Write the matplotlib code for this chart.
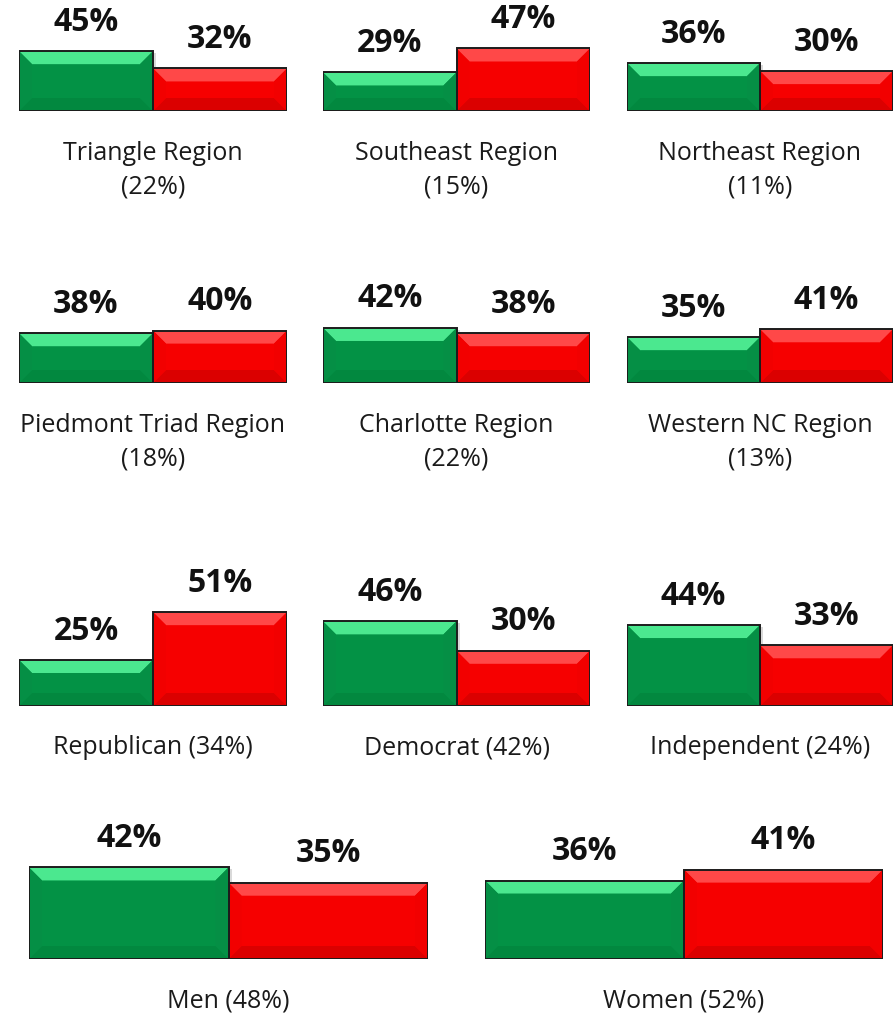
"""
Survey results by region, party and gender
Output: out.png
"""

import matplotlib
matplotlib.use("Agg")
import matplotlib.pyplot as plt
from matplotlib.patches import Polygon, Rectangle

# Chart data, one list per row of panels
row1_labels = ["Triangle Region\n(22%)", "Southeast Region\n(15%)", "Northeast Region\n(11%)"]
row1_green = [45, 29, 36]
row1_red = [32, 47, 30]

row2_labels = ["Piedmont Triad Region\n(18%)", "Charlotte Region\n(22%)", "Western NC Region\n(13%)"]
row2_green = [38, 42, 35]
row2_red = [40, 38, 41]

row3_labels = ["Republican (34%)", "Democrat (42%)", "Independent (24%)"]
row3_green = [25, 46, 44]
row3_red = [51, 30, 33]

row4_labels = ["Men (48%)", "Women (52%)"]
row4_green = [42, 36]
row4_red = [35, 41]

# Figure size in pixels
W, H = 894, 1015
DPI = 100

# Colours: (light top, face, dark bottom, side)
GREEN = ("#4be88f", "#039245", "#02883f", "#058f45")
RED = ("#ff4848", "#f60000", "#db0000", "#f20000")
EDGE = "#1c1c1c"

plt.rcParams["font.family"] = ["Open Sans", "DejaVu Sans"]

fig = plt.figure(figsize=(W / DPI, H / DPI), dpi=DPI)

# Row layout in pixels: baseline y, pixels per percent point, panel x ranges
rows = [
    (row1_labels, row1_green, row1_red, 111, 1.33, [(19, 287), (323, 590), (627, 893)]),
    (row2_labels, row2_green, row2_red, 383, 1.31, [(19, 287), (323, 590), (627, 893)]),
    (row3_labels, row3_green, row3_red, 706, 1.84, [(19, 287), (323, 590), (627, 893)]),
    (row4_labels, row4_green, row4_red, 959, 2.18, [(29, 428), (485, 883)]),
]

YMAX = 60
BEVEL = 13  # pixels
PT = 72 / DPI  # points per pixel


def draw_bar(ax, x0, h, colors, px_x, px_y):
    """Draw one bevelled bar from x0 to x0+1 with height h."""
    light, face, dark, side = colors
    x1 = x0 + 1
    bx = BEVEL / px_x
    by = BEVEL / px_y
    # soft shadow to the right
    ax.add_patch(Rectangle((x0 + 3 / px_x, 0), 1, h - 2 / px_y,
                           facecolor="#000000", alpha=0.15, lw=0, zorder=1))
    ax.bar(x0 + 0.5, h, width=1, color=face, zorder=2)
    ax.add_patch(Polygon([(x0, h), (x1, h), (x1 - bx, h - by), (x0 + bx, h - by)],
                         facecolor=light, lw=0, zorder=3))
    ax.add_patch(Polygon([(x0, 0), (x1, 0), (x1 - bx, by), (x0 + bx, by)],
                         facecolor=dark, lw=0, zorder=3))
    ax.add_patch(Polygon([(x0, 0), (x0, h), (x0 + bx, h - by), (x0 + bx, by)],
                         facecolor=side, lw=0, zorder=3))
    ax.add_patch(Polygon([(x1, 0), (x1, h), (x1 - bx, h - by), (x1 - bx, by)],
                         facecolor=side, lw=0, zorder=3))
    ax.bar(x0 + 0.5, h, width=1, facecolor="none", edgecolor=EDGE, lw=1.4, zorder=4)
    ax.annotate(f"{h}%", (x0 + 0.5, h), xytext=(0, 29 * PT), textcoords="offset points",
                ha="center", va="center", fontsize=23, fontweight="bold", color="#111111",
                annotation_clip=False)


for labels, green, red, base, scale, panels in rows:
    for label, g, r, (x0, x1) in zip(labels, green, red, panels):
        ax_h = YMAX * scale
        ax = fig.add_axes([x0 / W, 1 - base / H, (x1 - x0) / W, ax_h / H])
        ax.set_xlim(0, 2)
        ax.set_ylim(0, YMAX)
        ax.axis("off")
        px_x = (x1 - x0) / 2
        draw_bar(ax, 0, g, GREEN, px_x, scale)
        draw_bar(ax, 1, r, RED, px_x, scale)
        # category label lines below the bars
        for i, line in enumerate(label.split("\n")):
            ax.annotate(line, (0.5, 0), xycoords="axes fraction",
                        xytext=(0, -(42 + 34 * i) * PT), textcoords="offset points",
                        ha="center", va="center", fontsize=18, color="#1a1a1a",
                        annotation_clip=False)

fig.savefig("out.png", dpi=DPI)
